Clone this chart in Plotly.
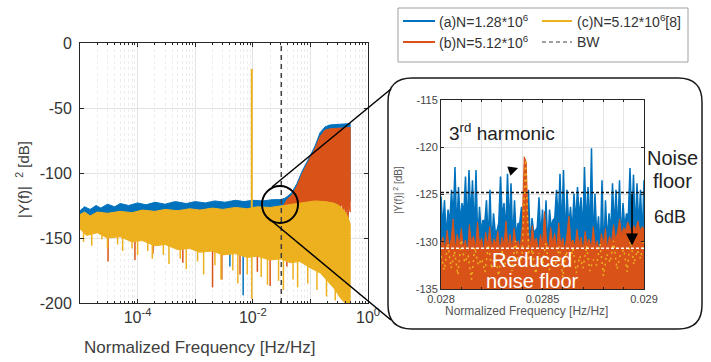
import plotly.graph_objects as go

W, H = 711, 362
BLUE, ORANGE, YELLOW = "#0072BD", "#D95319", "#EDB120"

# ---------------- main spectrum (envelopes) ----------------
a_top_f = [1.0e-5, 1.2e-5, 1.5e-5, 1.9e-5, 2.3e-5, 3e-5, 4e-5, 5e-5, 7e-5, 1e-4,
           1.4e-4, 2e-4, 3e-4, 4.5e-4, 7e-4, 1e-3, 1.5e-3, 2.2e-3, 3.3e-3, 5e-3,
           7e-3, 1e-2, 1.5e-2, 2.2e-2, 3e-2, 3.6e-2, 4.0e-2, 4.8e-2, 5.85e-2, 7.3e-2,
           0.099, 0.121, 0.147, 0.18, 0.22, 0.3, 0.4, 0.49]
a_top_db = [-129, -126, -128, -125, -127, -124, -126, -123.5, -125, -123,
            -124.5, -122.5, -124, -122, -123.5, -122, -123, -121.5, -122.5, -121,
            -122, -121, -121.5, -120.5, -120.5, -119.5, -118, -115, -108, -98,
            -87, -79, -69, -64.5, -63, -62.5, -62, -62]
a_bot_f = [1.0e-5, 0.3, 0.34, 0.49]
a_bot_db = [-134, -134, -122, -122]
a_spike_f = [4e-3, 6.8e-3]
a_spike_db = [-172, -194]

b_top_f = [0.034, 0.037, 0.04, 0.048, 0.0585, 0.073, 0.099, 0.121, 0.147, 0.18, 0.22, 0.3, 0.4, 0.49]
b_top_db = [-125, -122, -120, -117, -110, -100, -89, -81, -72, -67, -66, -65.5, -65, -65]
b_bot_f = [0.034, 0.1, 0.2, 0.26, 0.29, 0.32, 0.35, 0.37, 0.39, 0.41, 0.43, 0.45, 0.47, 0.49]
b_bot_db = [-126, -124, -124, -125, -123, -127, -124, -131, -125, -134, -126, -136, -124, -130]
b_spike_f = [3.07e-5, 9e-5, 1.85e-4, 6.1e-4, 2.0e-3, 2.9e-3, 6e-3, 1.2e-2, 2.0e-2, 3.9e-2]
b_spike_db = [-168, -167, -162, -169, -188, -182, -178, -176, -187, -172]

c_top_f = [1e-5, 1.2e-5, 1.5e-5, 2e-5, 3e-5, 5e-5, 8e-5, 1.2e-4, 2e-4, 3e-4,
           5e-4, 8e-4, 1.2e-3, 2e-3, 3e-3, 5e-3, 8e-3, 1.2e-2, 2e-2, 3e-2,
           5e-2, 8e-2, 0.12, 0.18, 0.25, 0.3, 0.35, 0.4, 0.45, 0.49]
c_top_db = [-132, -130, -133, -130, -131, -129.5, -130.5, -128.5, -129.5, -128,
            -129, -127.5, -128.5, -127, -128, -126.5, -127.5, -126, -126.5, -125.5,
            -124, -122.5, -121.5, -122, -123, -124.5, -127, -130, -134, -139]
c_bot_f = [1e-5, 1.3e-5, 2e-5, 3e-5, 5e-5, 8e-5, 1.2e-4, 2e-4, 3e-4, 5e-4,
           8e-4, 1.2e-3, 2e-3, 3e-3, 5e-3, 8e-3, 1.2e-2, 2e-2, 3e-2, 4.5e-2,
           6.5e-2, 0.1, 0.15, 0.2, 0.26, 0.33, 0.4, 0.49]
c_bot_db = [-143, -148, -146, -150, -149, -153, -152, -156, -155, -159,
            -158, -161, -160, -163, -162, -165, -164, -167, -166, -169,
            -168, -173, -177, -183, -189, -196, -200, -200]
c_spike_f = [1.15e-5, 1.6e-5, 2.4e-5, 3e-5, 4.5e-5, 5.5e-5, 8e-5, 1e-4, 1.5e-4, 1.8e-4,
             2.8e-4, 3.5e-4, 5.5e-4, 7e-4, 1.1e-3, 1.4e-3, 2.2e-3, 2.8e-3, 4.5e-3, 5.5e-3,
             8e-3, 9.6e-3, 1.4e-2, 1.8e-2, 2.8e-2, 3.4e-2, 5e-2, 6e-2, 9e-2, 0.13, 0.19, 0.27]
c_spike_db = [-153, -156, -151, -158, -155, -160, -158, -163, -160, -166,
              -163, -170, -166, -174, -168, -178, -171, -182, -175, -185,
              -178, -197, -180, -186, -183, -190, -182, -188, -185, -190, -195, -198]
c_tone_f = [0.0096]
c_tone_db = [-20]
bw_f = 0.03125

# ---------------- inset (zoom 0.028 .. 0.029) ----------------
inset_a_start_db = -125.2
inset_a_valley_db = [
    -128.5, -129.5, -128.0, -127.5, -129.0, -128.0, -127.0, -128.5, -127.5, -129.0,
    -130.0, -129.0, -128.0, -130.0, -130.5, -129.0, -128.0, -127.5, -129.0, -128.5,
    -130.0, -129.5, -128.0, -129.0, -130.0, -130.5, -129.0, -128.5, -129.5, -130.0,
    -130.5, -128.5, -127.5, -128.0, -129.0, -130.0, -128.5, -129.0, -128.0, -127.5,
    -129.0, -128.5, -129.0, -130.5, -129.5, -131.0, -131.5, -130.0, -129.0, -128.5,
    -129.0, -130.0, -128.5, -127.5, -128.0, -129.0, -128.5, -129.5]
inset_a_peak_db = [
    -125.6, -126.6, -124.5, -122.1, -124.2, -125.9, -123.1, -122.4, -123.5, -122.4,
    -126.3, -127.7, -125.6, -124.5, -127.0, -128.8, -123.1, -125.9, -122.8, -123.8,
    -125.6, -128.1, -126.3, -124.9, -124.5, -127.5, -128.8, -125.3, -126.6, -125.6,
    -126.6, -127.7, -124.5, -122.8, -122.4, -124.5, -126.3, -124.9, -124.2, -125.3,
    -122.1, -124.2, -120.1, -124.9, -127.3, -123.5, -125.6, -127.0, -123.8, -124.5,
    -123.5, -125.9, -127.0, -122.2, -122.9, -123.8, -124.5, -123.5]
inset_b_db = [
    -130.2, -129.5, -131.0, -128.8, -130.5, -129.8, -127.6, -130.8, -129.2, -130.4,
    -128.6, -130.6, -129.8, -131.2, -128.2, -130.1, -129.4, -130.8, -127.9, -130.3,
    -129.6, -131.0, -129.0, -130.4, -128.4, -130.8, -129.7, -130.2, -128.9, -131.1,
    -129.5, -130.3, -127.8, -130.6, -129.2, -130.9, -128.6, -130.2, -129.9, -130.7,
    -128.5, -121.0, -121.6, -129.0, -130.5, -128.3, -130.1, -129.6, -131.0, -129.2,
    -130.4, -126.8, -129.9, -130.7, -128.5, -130.2, -129.1, -130.8, -128.0, -130.4,
    -129.6, -130.9, -129.3, -127.3, -130.1, -129.8, -130.6, -128.7, -130.3, -129.5,
    -131.0, -128.9, -130.2, -129.7, -130.8, -128.4, -130.5, -129.9, -131.2, -129.1,
    -130.3, -128.6, -130.7, -129.4, -130.1, -128.2, -129.8, -128.9, -127.6, -129.3,
    -128.5, -128.8, -127.9, -128.6, -129.1, -128.3, -128.7, -127.8, -128.9, -128.4,
    -128.6]
inset_c_db = [
    -131.5, -133.0, -130.2, -132.8, -131.0, -133.5, -129.8, -132.2, -131.4, -134.0,
    -130.6, -132.5, -131.8, -133.2, -130.3, -132.9, -131.1, -133.6, -130.9, -132.4,
    -131.6, -133.1, -129.9, -132.7, -131.3, -121.3, -132.0, -130.8, -133.4, -131.2,
    -132.6, -130.1, -133.0, -131.7, -132.3, -130.5, -133.8, -131.0, -132.1, -130.7,
    -133.3, -131.5, -132.8, -130.4, -133.1, -131.9, -132.5, -130.2, -133.6, -131.3,
    -132.2, -129.9, -132.9, -131.4, -130.8, -133.2, -129.6, -132.4, -130.9, -131.8,
    -129.5]
inset_f_lo, inset_f_hi = 0.028, 0.029
noise_floor_db = -124.8
reduced_floor_db = -130.7
arrow_f = 0.028941


def px(x):
    return x / W


def py(y):
    return 1 - y / H


def grid(n):
    return [inset_f_lo + (inset_f_hi - inset_f_lo) * i / (n - 1) for i in range(n)]


def band(xt, yt, xb, yb, color, xa="x", ya="y"):
    return go.Scatter(x=list(xt) + list(xb)[::-1], y=list(yt) + list(yb)[::-1],
                      fill="toself", fillcolor=color, mode="lines",
                      line=dict(color=color, width=1), xaxis=xa, yaxis=ya,
                      showlegend=False, hoverinfo="skip")


def spikes(fs, dbs, start, color, width):
    x, y = [], []
    for f, d in zip(fs, dbs):
        x += [f, f, None]
        y += [start, d, None]
    return go.Scatter(x=x, y=y, mode="lines", line=dict(color=color, width=width),
                      showlegend=False, hoverinfo="skip")


fig = go.Figure()
# main
fig.add_trace(band(a_top_f, a_top_db, a_bot_f, a_bot_db, BLUE))
fig.add_trace(band(b_top_f, b_top_db, b_bot_f, b_bot_db, ORANGE))
fig.add_trace(spikes(a_spike_f, a_spike_db, -140, BLUE, 1.5))
fig.add_trace(spikes(b_spike_f, b_spike_db, -140, ORANGE, 1.5))
fig.add_trace(band(c_top_f, c_top_db, c_bot_f, c_bot_db, YELLOW))
fig.add_trace(spikes(c_spike_f, c_spike_db, -145, YELLOW, 1.5))
fig.add_trace(spikes(c_tone_f, c_tone_db, -127, YELLOW, 2))
fig.add_trace(go.Scatter(x=[bw_f, bw_f], y=[-200, 0], mode="lines",
                         line=dict(color="#404040", width=1.5, dash="5px,4px"),
                         showlegend=False, hoverinfo="skip"))

# inset
ya = [inset_a_start_db]
for v, p in zip(inset_a_valley_db, inset_a_peak_db):
    ya += [v, p]
xa = grid(len(ya))
fig.add_trace(go.Scatter(x=xa + [inset_f_hi, inset_f_lo], y=ya + [-136, -136],
                         fill="toself", fillcolor=BLUE, mode="lines",
                         line=dict(color=BLUE, width=1.5), xaxis="x2", yaxis="y2",
                         showlegend=False, hoverinfo="skip"))
xb = grid(len(inset_b_db))
fig.add_trace(go.Scatter(x=xb + [inset_f_hi, inset_f_lo], y=inset_b_db + [-136, -136],
                         fill="toself", fillcolor=ORANGE, mode="lines",
                         line=dict(color=ORANGE, width=1), xaxis="x2", yaxis="y2",
                         showlegend=False, hoverinfo="skip"))
fig.add_trace(go.Scatter(x=grid(len(inset_c_db)), y=inset_c_db, mode="lines",
                         line=dict(color=YELLOW, width=1.5, dash="2px,4px"),
                         xaxis="x2", yaxis="y2", showlegend=False, hoverinfo="skip"))

AX = "#262626"
minor_vals = [k * 10.0 ** e for e in range(-5, 0) for k in range(2, 10)]
fig.update_layout(
    width=W, height=H, margin=dict(l=0, r=0, t=0, b=0, autoexpand=False),
    showlegend=False,
    paper_bgcolor="white", plot_bgcolor="white",
    font=dict(family="Liberation Sans, Arial, sans-serif", color="#333333"),
    xaxis=dict(type="log", range=[-5, 0], domain=[px(80), px(368)], anchor="y", automargin=False,
               tickvals=[1e-5, 1e-4, 1e-3, 1e-2, 1e-1, 1],
               ticktext=["", "10<sup>-4</sup>", "", "10<sup>-2</sup>", "", "10<sup>0</sup>"],
               ticks="inside", ticklen=4, tickcolor=AX, showgrid=True, gridcolor="#e3e3e3",
               minor=dict(tickvals=minor_vals, ticks="inside", ticklen=2, tickcolor=AX,
                          showgrid=True, gridcolor="#ececec", griddash="dot"),
               showline=True, mirror="allticks", linecolor=AX, linewidth=1, zeroline=False,
               tickfont=dict(size=16, color="#333333")),
    yaxis=dict(range=[-200, 0], domain=[py(303), py(43)], anchor="x", automargin=False,
               tickvals=[-200, -150, -100, -50, 0],
               ticktext=["-200", "-150", "-100", "-50", "0"],
               ticks="inside", ticklen=4, tickcolor=AX, showgrid=True, gridcolor="#e3e3e3",
               showline=True, mirror="allticks", linecolor=AX, linewidth=1, zeroline=False,
               ticklabelstandoff=4,
               tickfont=dict(size=16, color="#333333")),
    xaxis2=dict(range=[inset_f_lo, inset_f_hi], domain=[px(441), px(644)], anchor="y2",
                automargin=False,
                tickvals=[0.028, 0.0285, 0.029], ticktext=["0.028", "0.0285", "0.029"],
                ticks="inside", ticklen=3, tickcolor=AX, showgrid=True, gridcolor="#e3e3e3",
                minor=dict(dtick=0.0001, ticks="inside", ticklen=2, tickcolor=AX,
                           showgrid=True, gridcolor="#e3e3e3"),
                showline=True, mirror="allticks", linecolor=AX, linewidth=1, zeroline=False,
                tickfont=dict(size=11, color="#444444")),
    yaxis2=dict(range=[-135, -115], domain=[py(289), py(100)], anchor="x2", automargin=False,
                tickvals=[-135, -130, -125, -120, -115],
                ticktext=["-135", "-130", "-125", "-120", "-115"],
                ticks="inside", ticklen=3, tickcolor=AX, showgrid=True, gridcolor="#e3e3e3",
                showline=True, mirror="allticks", linecolor=AX, linewidth=1, zeroline=False,
                tickfont=dict(size=11, color="#444444")),
)

# ---- shapes: callout, inset frame, legend, dashed floors ----
x0, y0, x1, y1, r = 388, 78, 702, 329, 24
path = (f"M {px(x0 + r)},{py(y0)} L {px(x1 - r)},{py(y0)} Q {px(x1)},{py(y0)} {px(x1)},{py(y0 + r)} "
        f"L {px(x1)},{py(y1 - r)} Q {px(x1)},{py(y1)} {px(x1 - r)},{py(y1)} "
        f"L {px(x0 + r)},{py(y1)} Q {px(x0)},{py(y1)} {px(x0)},{py(y1 - r)} "
        f"L {px(x0)},{py(y0 + r)} Q {px(x0)},{py(y0)} {px(x0 + r)},{py(y0)} Z")
shapes = [
    dict(type="path", path=path, xref="paper", yref="paper", line=dict(color="#1a1a1a", width=1.5)),
    dict(type="circle", xref="paper", yref="paper", x0=px(262), x1=px(298), y0=py(223), y1=py(186),
         line=dict(color="black", width=2)),
    dict(type="line", xref="paper", yref="paper", x0=px(272), y0=py(187), x1=px(391), y1=py(89),
         line=dict(color="black", width=1.5)),
    dict(type="line", xref="paper", yref="paper", x0=px(267), y0=py(217), x1=px(391), y1=py(320),
         line=dict(color="black", width=1.5)),
    # legend
    dict(type="rect", xref="paper", yref="paper", x0=px(398), x1=px(688), y0=py(62), y1=py(8),
         line=dict(color="#a0a0a0", width=1), fillcolor="white"),
    dict(type="line", xref="paper", yref="paper", x0=px(403), x1=px(435), y0=py(21), y1=py(21),
         line=dict(color=BLUE, width=2)),
    dict(type="line", xref="paper", yref="paper", x0=px(403), x1=px(435), y0=py(42), y1=py(42),
         line=dict(color=ORANGE, width=2)),
    dict(type="line", xref="paper", yref="paper", x0=px(542), x1=px(572), y0=py(21), y1=py(21),
         line=dict(color=YELLOW, width=2)),
    dict(type="line", xref="paper", yref="paper", x0=px(542), x1=px(572), y0=py(42), y1=py(42),
         line=dict(color="#404040", width=1, dash="4px,3px")),
    # inset floors
    dict(type="line", xref="x2", yref="y2", x0=inset_f_lo, x1=inset_f_hi,
         y0=noise_floor_db, y1=noise_floor_db, line=dict(color="#111111", width=1.5, dash="3px,2px")),
    dict(type="line", xref="x2", yref="y2", x0=inset_f_lo, x1=inset_f_hi,
         y0=reduced_floor_db, y1=reduced_floor_db, line=dict(color="white", width=1.5, dash="3px,2px")),
]
fig.update_layout(shapes=shapes)


def txt(x, y, s, size, color="#333333", xanchor="center", angle=0):
    return dict(x=px(x), y=py(y), xref="paper", yref="paper", text=s, showarrow=False,
                font=dict(size=size, color=color), xanchor=xanchor, yanchor="middle",
                textangle=angle)


ann = [
    txt(199, 347, "Normalized Frequency [Hz/Hz]", 17, "#404040"),
    txt(22, 180, "|Y(f)|  <sup>2</sup> [dB]", 15, "#404040", angle=-90),
    txt(526, 311, "Normalized Frequency [Hz/Hz]", 12, "#555555"),
    txt(398, 190, "|Y(f)|<sup> 2</sup> [dB]", 10, "#555555", angle=-90),
    txt(437, 21, "(a)N=1.28*10<sup>6</sup>", 14, "#333333", "left"),
    txt(437, 42, "(b)N=5.12*10<sup>6</sup>", 14, "#333333", "left"),
    txt(575, 21, "(c)N=5.12*10<sup>6</sup>[8]", 14, "#333333", "left"),
    txt(575, 42, "BW", 14, "#333333", "left"),
    txt(447, 132, "3<sup>rd</sup> harmonic", 19, "#222222", "left"),
    txt(672, 158, "Noise", 20, "#222222"),
    txt(672, 181, "floor", 20, "#222222"),
    txt(670, 217, "6dB", 18, "#222222"),
    txt(532, 260, "Reduced", 20, "white"),
    txt(532, 281, "noise floor", 20, "white"),
    dict(x=arrow_f, y=reduced_floor_db + 0.3, xref="x2", yref="y2", ax=arrow_f, ay=noise_floor_db,
         axref="x2", ayref="y2", text="", showarrow=True, arrowhead=2, arrowsize=1.6,
         arrowwidth=1.5, arrowcolor="black"),
    dict(x=0.02838, y=-122.2, xref="x2", yref="y2", ax=-6, ay=2, text="", showarrow=True,
         arrowhead=2, arrowsize=1.3, arrowwidth=1.5, arrowcolor="black"),
]
fig.update_layout(annotations=ann)

fig.write_html("out.html", config={"displayModeBar": False},
               post_script="document.body.style.margin='0';")
